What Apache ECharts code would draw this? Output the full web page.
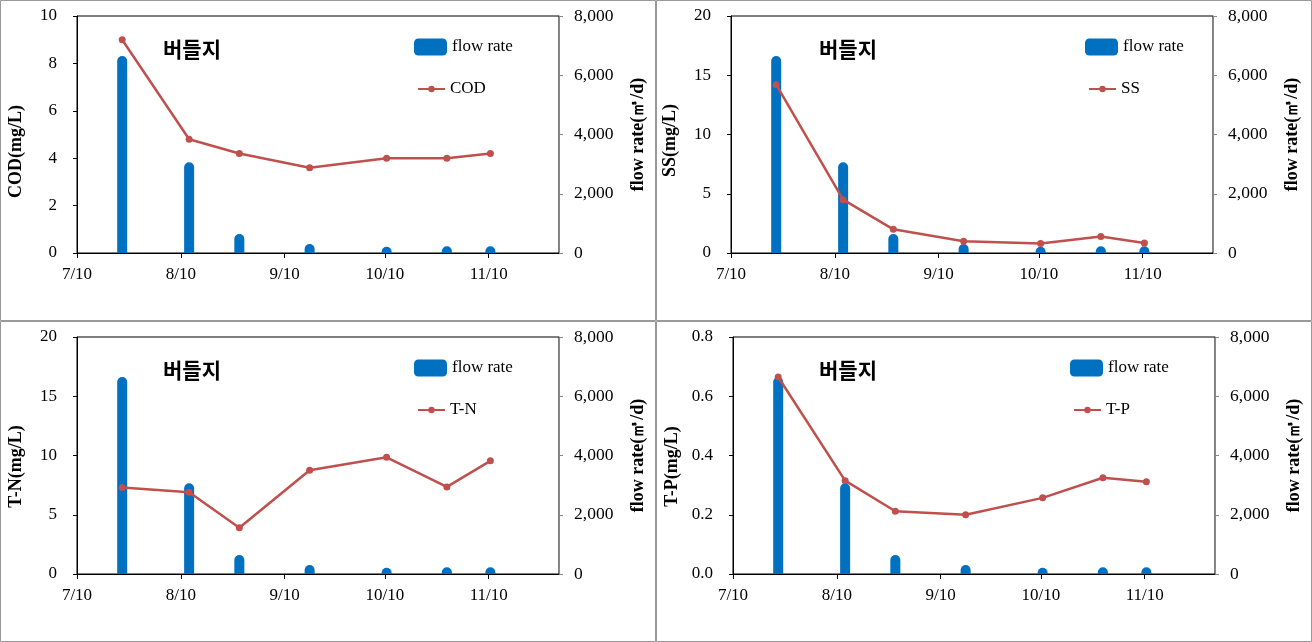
<!DOCTYPE html>
<html>
<head>
<meta charset="utf-8">
<script src="https://cdn.jsdelivr.net/npm/echarts@6/dist/echarts.min.js"></script>
<style>
html,body{margin:0;padding:0;background:#fff;}
#chart{width:1312px;height:642px;}
</style>
</head>
<body>
<div id="chart"></div>
<script>
// ---- data ----
const sampleDates = ['2013-07-23','2013-08-12','2013-08-27','2013-09-17','2013-10-10','2013-10-28','2013-11-10'];
const flowRate = [6650, 3060, 640, 300, 210, 230, 230];
const codValues = [9.0, 4.8, 4.2, 3.6, 4.0, 4.0, 4.2];
const ssValues = [14.2, 4.5, 2.0, 1.0, 0.8, 1.4, 0.85];
const tnValues = [7.3, 6.9, 3.9, 8.75, 9.85, 7.35, 9.55];
const tpValues = [0.665, 0.315, 0.212, 0.2, 0.257, 0.325, 0.311];
const xTickDates = ['2013-07-10','2013-08-10','2013-09-10','2013-10-10','2013-11-10'];
const xRange = ['2013-07-10','2013-12-01'];
const siteName = '버들지';
const flowName = 'flow rate';
const flowAxisName = 'flow rate(㎥/d)';
const paramNames = ['COD','SS','T-N','T-P'];
const paramAxisNames = ['COD(mg/L)','SS(mg/L)','T-N(mg/L)','T-P(mg/L)'];
const paramMax = [10, 20, 20, 0.8];
const paramInterval = [2, 5, 5, 0.2];
const paramDecimals = [0, 0, 0, 1];
const paramValues = [codValues, ssValues, tnValues, tpValues];
const flowMax = 8000, flowInterval = 2000;

// ---- layout ----
const layout = [
  {left:77, top:16, ox:0, oy:0, titleShift:17, legX:414},
  {left:731, top:16, ox:656, oy:0, titleShift:6, legX:1085},
  {left:77, top:337, ox:0, oy:321, titleShift:11, legX:414},
  {left:733, top:337, ox:656, oy:321, titleShift:11, legX:1070}
];
const gridW = 482, gridH = 237;
const serif = '"Liberation Serif","Times New Roman",serif';
const blue = '#0070C0', red = '#C0504D';

const dayMs = 86400000;
const ts = d => Date.parse(d + 'T00:00:00Z');
const pointTs = sampleDates.map(d => ts(d) + dayMs / 2);
const tickTs = xTickDates.map(ts);
const fmtDate = v => { const d = new Date(v); return (d.getUTCMonth() + 1) + '/' + d.getUTCDate(); };
const fmtThousands = v => String(v).replace(/\B(?=(\d{3})+(?!\d))/g, ',');

const grid = [], xAxis = [], yAxis = [], series = [], legend = [], title = [], graphic = [];
layout.forEach((L, i) => {
  grid.push({left: L.left, top: L.top, width: gridW, height: gridH, show: true,
    borderColor: '#000', borderWidth: 1, backgroundColor: 'transparent'});
  xAxis.push({type: 'value', gridIndex: i, min: ts(xRange[0]), max: ts(xRange[1]),
    axisLine: {show: true, lineStyle: {color: '#000', width: 1}},
    axisTick: {show: true, length: 5, lineStyle: {color: '#000'}, customValues: tickTs},
    axisLabel: {customValues: tickTs, formatter: fmtDate, color: '#000', fontFamily: serif, fontSize: 17, margin: 13},
    splitLine: {show: false}});
  yAxis.push({type: 'value', gridIndex: i, position: 'left', min: 0, max: paramMax[i], interval: paramInterval[i],
    name: paramAxisNames[i], nameLocation: 'middle', nameRotate: 90, nameGap: 52,
    nameTextStyle: {fontFamily: serif, fontSize: 18, fontWeight: 'bold', color: '#000',
      padding: [0, 2 * L.titleShift, 0, 0]},
    axisLine: {show: true, lineStyle: {color: '#000'}},
    axisTick: {show: true, length: 4, lineStyle: {color: '#000'}},
    axisLabel: {color: '#000', fontFamily: serif, fontSize: 17, margin: 20,
      formatter: v => v.toFixed(paramDecimals[i])},
    splitLine: {show: false}});
  yAxis.push({type: 'value', gridIndex: i, position: 'right', min: 0, max: flowMax, interval: flowInterval,
    name: flowAxisName, nameLocation: 'middle', nameRotate: 90, nameGap: 70,
    nameTextStyle: {fontFamily: serif, fontSize: 18, fontWeight: 'bold', color: '#000'},
    axisLine: {show: true, lineStyle: {color: '#888'}},
    axisTick: {show: true, length: 4, lineStyle: {color: '#888'}},
    axisLabel: {color: '#000', fontFamily: serif, fontSize: 17.5, margin: 15, formatter: fmtThousands},
    splitLine: {show: false}});
  series.push({type: 'bar', name: flowName, xAxisIndex: i, yAxisIndex: 2 * i + 1,
    data: pointTs.map((t, k) => [t, flowRate[k]]), barWidth: 10,
    itemStyle: {color: blue, borderRadius: [5, 5, 0, 0]}, z: 2});
  series.push({type: 'line', name: paramNames[i], xAxisIndex: i, yAxisIndex: 2 * i,
    data: pointTs.map((t, k) => [t, paramValues[i][k]]),
    symbol: 'circle', symbolSize: 7, lineStyle: {color: red, width: 2.5},
    itemStyle: {color: red}, z: 3});
  legend.push({data: [flowName], left: L.legX, top: L.oy + 37, padding: 0, itemWidth: 33, itemHeight: 17,
    icon: 'roundRect', selectedMode: false,
    textStyle: {fontFamily: serif, fontSize: 17, color: '#000', lineHeight: 20}});
  legend.push({data: [paramNames[i]], left: L.legX + 3, top: L.oy + 79, padding: 0, itemWidth: 27, itemHeight: 8,
    selectedMode: false,
    textStyle: {fontFamily: serif, fontSize: 17, color: '#000', lineHeight: 20}});
  title.push({text: siteName, left: L.ox + 163, top: L.oy + 39, padding: 0,
    textStyle: {fontFamily: '"Noto Sans CJK KR", sans-serif', fontSize: 21, fontWeight: 'bold', color: '#000'}});
  graphic.push({type: 'rect', shape: {x: L.ox + 0.5, y: L.oy + 0.5, width: 655, height: 320},
    style: {fill: 'none', stroke: '#999', lineWidth: 1}, silent: true});
});

const chart = echarts.init(document.getElementById('chart'), null, {renderer: 'canvas'});
chart.setOption({animation: false, backgroundColor: '#fff', grid, xAxis, yAxis, series, legend, title, graphic});
</script>
</body>
</html>
